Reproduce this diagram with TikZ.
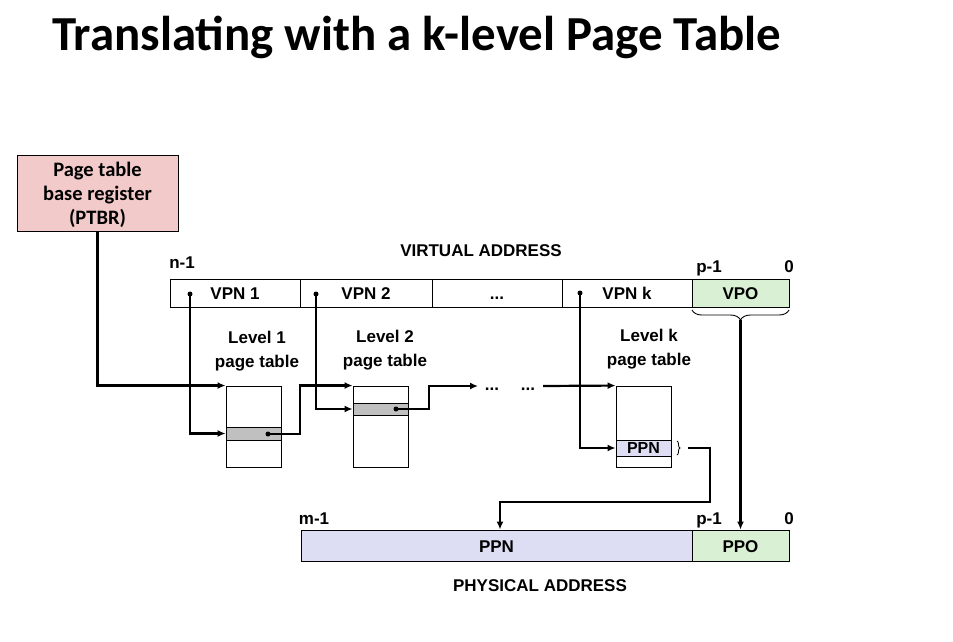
\documentclass[tikz,border=0pt]{standalone}
\usepackage{fontspec}
\setmainfont{Liberation Sans}
\newfontfamily\titlefont{Carlito}
\usetikzlibrary{arrows.meta,decorations.pathreplacing}
\definecolor{ptbrpink}{RGB}{242,202,202}
\definecolor{offgreen}{RGB}{218,240,212}
\definecolor{ppnblue}{RGB}{221,222,244}
\definecolor{rowgray}{RGB}{192,192,192}
\begin{document}
\begin{tikzpicture}[x=1pt,y=-1pt,
  lbl/.style={font=\bfseries\fontsize{17}{24}\selectfont, inner sep=0, align=center},
  blbl/.style={font=\bfseries\fontsize{17}{24}\selectfont, inner sep=0, anchor=base},
  cell/.style={draw, line width=0.9pt, minimum height=28pt, inner sep=0,
    text height=13pt, text depth=0pt,
    font=\bfseries\fontsize{17}{20}\selectfont},
  ptable/.style={draw, line width=0.9pt, minimum width=55pt, minimum height=81pt, inner sep=0},
  prow/.style={draw, line width=0.9pt, minimum width=55pt, inner sep=0},
  dotnode/.style={circle, fill=black, inner sep=0, minimum size=5pt},
  conn/.style={line width=2.2pt, -{Latex[length=8pt,width=7pt]}}
]
\useasboundingbox (0,0) rectangle (953,641);

% title
\node[anchor=base west, inner sep=0, font=\titlefont\bfseries\fontsize{48.9}{58}\selectfont] (title) at (52,50) {Translating with a k-level Page Table};

% PTBR
\node[draw, line width=0.9pt, fill=ptbrpink, minimum width=161pt, minimum height=76pt, inner sep=0,
  align=center, text depth=0pt, font=\titlefont\bfseries\fontsize{20.5}{24}\selectfont] (ptbr) at (97.5,193) {Page table\\base register\\(PTBR)};

% virtual address
\node[blbl] (vatitle) at (481,256) {VIRTUAL ADDRESS};
\node[blbl] (vn) at (182,268) {n-1};
\node[blbl] (vp) at (709,272) {p-1};
\node[blbl] (v0) at (789,272) {0};
\node[cell, minimum width=130pt] (vpn1) at (235,293) {VPN 1};
\node[cell, minimum width=132pt] (vpn2) at (366,293) {VPN 2};
\node[cell, minimum width=130pt] (vdots) at (497,293) {...};
\node[cell, minimum width=130pt] (vpnk) at (627,293) {VPN k};
\node[cell, minimum width=97pt, fill=offgreen] (vpo) at (740.5,293) {VPO};

% page tables
\node[lbl] (l1) at (257,351.5) {Level 1\\page table};
\node[lbl] (l2) at (385,350.5) {Level 2\\page table};
\node[lbl] (lk) at (649,349.5) {Level k\\page table};
\node[ptable] (t1) at (253.5,426.5) {};
\node[ptable] (t2) at (380.5,426.5) {};
\node[ptable] (tk) at (643.5,426.5) {};
\node[prow, fill=rowgray, minimum height=13pt] (r1) at (253.5,433.5) {};
\node[prow, fill=rowgray, minimum height=12pt] (r2) at (380.5,409) {};
\node[prow, fill=ppnblue, minimum height=16pt, text height=11.5pt, text depth=0pt,
  font=\bfseries\fontsize{16}{18}\selectfont] (rk) at (643.5,448) {PPN};

% dots
\node[dotnode] (d1) at (190,294) {};
\node[dotnode] (d2) at (316,294) {};
\node[dotnode] (dk) at (580,293) {};
\node[dotnode] (e1) at (268,434) {};
\node[dotnode] (e2) at (396,409) {};

% ellipses between levels
\node[blbl] (el1) at (492,390) {...};
\node[blbl] (el2) at (528,390) {...};
\coordinate (a1) at (478,386);
\coordinate (a2) at (543,386);

% physical address
\node[blbl] (pm) at (314,524) {m-1};
\node[blbl] (pp) at (709,524) {p-1};
\node[blbl] (p0) at (789,524) {0};
\node[cell, minimum width=391pt, minimum height=31pt, fill=ppnblue] (ppn) at (496.5,545.5) {PPN};
\node[cell, minimum width=97pt, minimum height=31pt, fill=offgreen] (ppo) at (740.5,545.5) {PPO};
\node[blbl] (patitle) at (540,591) {PHYSICAL ADDRESS};

% braces
\draw[line width=0.9pt, decorate, decoration={brace, amplitude=10pt, mirror}] (692,310) -- (789,310);
\coordinate (bt) at (740.5,320);
\draw[line width=0.8pt, decorate, decoration={brace, amplitude=3pt}] (677,441) -- (677,455);
\coordinate (c1) at (688,448);
\coordinate (bend) at (500,502);

% connectors
\draw[conn] (ptbr.south) |- (t1.north west);
\draw[conn] (d1.center) |- (r1.west);
\draw[conn] (e1.center) -- ++(32,0) |- (t2.north west);
\draw[conn] (d2.center) |- (r2.west);
\draw[conn] (e2.center) -- ++(33,0) |- (a1);
\draw[conn] (a2) -- (tk.north west);
\draw[conn] (dk.center) |- (rk.west);
\draw[conn] (c1) -- (710,448) |- (bend) -- (bend |- ppn.north);
\draw[conn] (bt) -- (bt |- ppo.north);
\end{tikzpicture}
\end{document}
